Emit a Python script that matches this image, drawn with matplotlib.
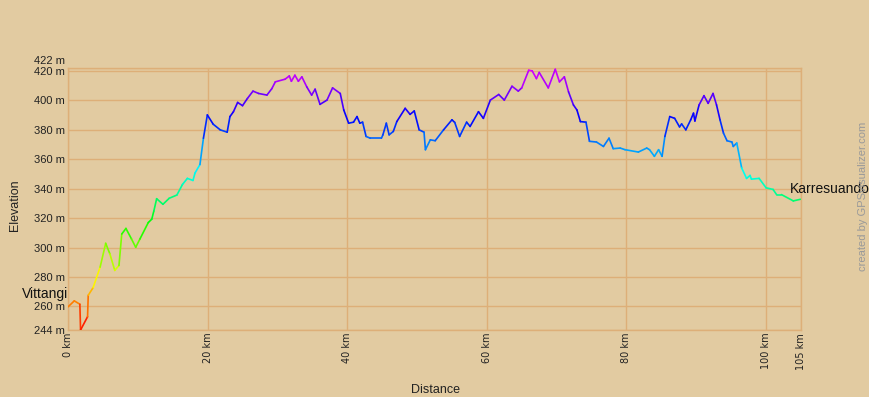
import numpy as np
import matplotlib
matplotlib.use('Agg')
import matplotlib.pyplot as plt
from matplotlib.collections import LineCollection
from matplotlib.colors import Normalize

# Perfil Vittangi -> Karresuando (km, m)
dist_km = [0.0, 0.9, 1.7, 1.8, 2.8, 2.9, 3.6, 4.6, 5.4, 6.0, 6.7, 7.3, 7.7, 8.3,
           9.1, 9.7, 10.3, 11.5, 12.0, 12.3, 12.7, 13.6, 14.5, 15.6, 16.4, 17.1,
           17.9, 18.2, 18.9, 19.4, 19.96, 20.8, 21.8, 22.8, 23.2, 23.7, 24.3,
           25.0, 25.7, 26.5, 27.3, 28.5, 29.2, 29.7, 31.1, 31.7, 32.0, 32.5,
           33.0, 33.5, 34.2, 34.9, 35.4, 36.1, 37.1, 37.9, 39.0, 39.5, 40.2,
           40.9, 41.4, 41.8, 42.2, 42.7, 43.3, 44.9, 45.1, 45.6, 46.0, 46.6,
           47.1, 48.3, 49.0, 49.6, 50.3, 51.0, 51.2, 51.9, 52.6, 53.8, 55.0,
           55.4, 56.1, 57.1, 57.6, 58.8, 59.5, 60.5, 61.7, 62.5, 63.6, 64.5,
           65.0, 66.0, 66.5, 67.1, 67.5, 68.8, 69.8, 70.4, 71.1, 71.7, 72.4,
           72.9, 73.4, 74.2, 74.7, 75.7, 76.7, 77.5, 78.1, 79.1, 79.8, 81.7,
           82.9, 83.3, 84.0, 84.6, 85.1, 85.5, 86.2, 86.9, 87.6, 87.9, 88.5,
           89.2, 89.6, 89.8, 90.4, 91.1, 91.7, 92.4, 92.9, 93.4, 93.9, 94.4,
           95.1, 95.3, 95.8, 96.5, 97.2, 97.7, 97.9, 99.0, 100.0, 101.0, 101.5,
           102.2, 103.9, 104.9]
elev_m = [259.7, 263.8, 261.5, 244.0, 253.0, 267.6, 272.8, 286.7, 302.9, 295.7,
          284.5, 287.8, 309.2, 313.0, 305.8, 300.2, 305.8, 317.0, 319.3, 324.9,
          333.2, 329.4, 333.5, 335.7, 342.9, 347.0, 345.6, 350.7, 356.4, 374.3,
          390.1, 383.8, 380.0, 378.4, 389.0, 392.3, 398.6, 396.4, 401.3, 406.3,
          404.7, 403.6, 408.0, 412.6, 414.4, 416.6, 413.0, 417.1, 413.0, 416.0,
          409.2, 403.6, 407.6, 397.3, 400.2, 408.5, 404.7, 393.5, 384.5, 385.2,
          389.0, 384.5, 385.2, 375.5, 374.3, 374.3, 376.5, 384.5, 376.6, 378.9,
          385.6, 394.6, 390.5, 392.8, 380.0, 378.4, 366.5, 373.2, 372.6, 380.0,
          386.8, 385.0, 375.5, 385.2, 382.3, 392.3, 387.8, 400.2, 404.0, 400.2,
          409.6, 406.3, 408.5, 420.5, 420.0, 414.8, 419.0, 408.5, 421.1, 412.6,
          416.0, 405.8, 396.9, 393.5, 385.6, 385.2, 372.2, 371.7, 368.7, 374.3,
          367.2, 367.6, 366.5, 364.9, 367.6, 366.5, 362.0, 366.5, 362.0, 375.5,
          389.0, 387.8, 382.0, 384.0, 380.0, 386.8, 391.3, 386.0, 396.9, 403.2,
          398.0, 404.7, 396.9, 386.8, 377.7, 372.6, 371.7, 368.7, 371.0, 354.1,
          347.0, 349.0, 346.5, 347.0, 340.6, 339.5, 336.0, 336.0, 331.7, 332.8]

y_ticks = [244, 260, 280, 300, 320, 340, 360, 380, 400, 420, 422]
x_ticks = [0, 20, 40, 60, 80, 100, 105]

bg = '#E2CBA1'
grid_c = '#DDAF78'

fig = plt.figure(figsize=(8.69, 3.97), dpi=100)
fig.patch.set_facecolor(bg)
ax = fig.add_axes([68 / 869, 1 - 330 / 397, 733 / 869, 262 / 397])
ax.set_facecolor(bg)

x = np.array(dist_km)
y = np.array(elev_m)
pts = np.column_stack([x, y]).reshape(-1, 1, 2)
segs = np.concatenate([pts[:-1], pts[1:]], axis=1)
mid = (y[:-1] + y[1:]) / 2
norm = Normalize(244, 244 + 178 * 1.2)
lc = LineCollection(segs, colors=plt.cm.hsv(norm(mid)), linewidth=1.2,
                    capstyle='round', joinstyle='round', zorder=3)
ax.add_collection(lc)

ax.set_xlim(0, 105)
ax.set_ylim(244, 422)
ax.set_yticks(y_ticks)
# la etiqueta de 422 va aparte, algo mas arriba
ax.set_yticklabels([f'{v} m' if v != 422 else '' for v in y_ticks], fontsize=8,
                   family='Liberation Sans', color='#222222')
ax.annotate('422 m', xy=(0, 422), xytext=(-2, 5), textcoords='offset points',
            ha='right', va='center', fontsize=8, family='Liberation Sans',
            color='#222222', annotation_clip=False)
ax.set_xticks(x_ticks)
ax.set_xticklabels([f'{v} km' for v in x_ticks], fontsize=7, rotation=90,
                   color='#222222')
ax.tick_params(length=0, pad=2)
ax.grid(True, color=grid_c, linewidth=1.0, zorder=0)
for s in ax.spines.values():
    s.set_color(grid_c)
    s.set_linewidth(1.0)

fig.text(15 / 869, 1 - 205 / 397, 'Elevation', rotation=90, ha='center',
         va='center', fontsize=9, family='Liberation Sans', color='#222222')
fig.text(435 / 869, 1 - 390 / 397, 'Distance', ha='center', va='center',
         fontsize=9, family='Liberation Sans', color='#222222')
fig.text(68 / 869, 1 - 294 / 397, 'Vittangi', ha='right', va='center',
         fontsize=10, family='Liberation Sans', color='#111111')
fig.text(790 / 869, 1 - 189 / 397, 'Karresuando', ha='left', va='center',
         fontsize=10, family='Liberation Sans', color='#111111')
fig.text(863 / 869, 1 - 196 / 397, 'created by GPSvisualizer.com', rotation=90,
         ha='center', va='center', fontsize=8, family='Liberation Sans',
         color='#999999')

plt.savefig('out.png', dpi=100, facecolor=bg)
